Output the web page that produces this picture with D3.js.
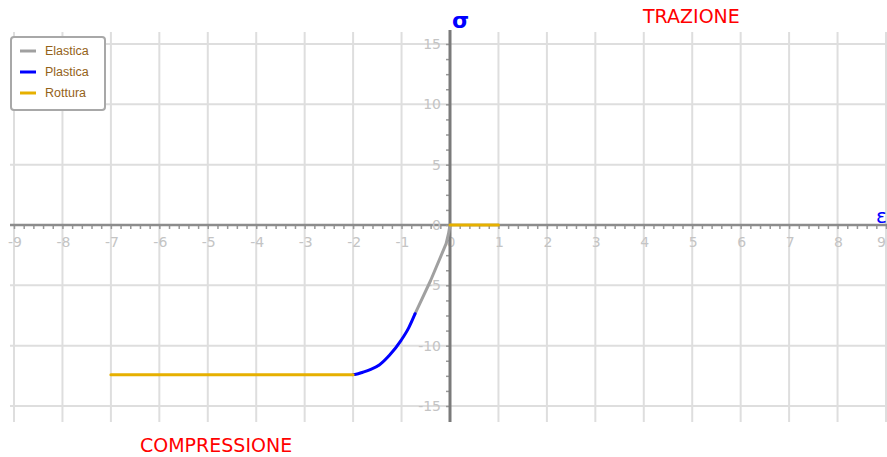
<!DOCTYPE html>
<html>
<head>
<meta charset="utf-8">
<style>
  body { margin: 0; background: #fff; }
  svg { display: block; }
</style>
</head>
<body>
  <div id="chart"></div>
  <script src="https://d3js.org/d3.v7.min.js"></script>
  <script>
    // strain (epsilon) / stress (sigma) curve
    var elasticaX = [0, -0.03, -0.08, -0.4, -0.72];
    var elasticaY = [0, -0.7, -1.55, -4.6, -7.35];
    var plasticaX = [-0.72, -0.85, -1.01, -1.25, -1.46, -1.66, -1.8, -1.94, -2];
    var plasticaY = [-7.35, -8.5, -9.56, -10.8, -11.6, -12.0, -12.2, -12.37, -12.4];
    var rotturaCompX = [-7, -2];
    var rotturaCompY = [-12.4, -12.4];
    var rotturaTrazX = [0, 1];
    var rotturaTrazY = [0, 0];
    var xTicks = [-9, -8, -7, -6, -5, -4, -3, -2, -1, 0, 1, 2, 3, 4, 5, 6, 7, 8, 9];
    var yTicks = [-15, -10, -5, 0, 5, 10, 15];
    var legendNames = ['Elastica', 'Plastica', 'Rottura'];
    var legendColors = ['#a0a0a0', '#0000ff', '#e6b000'];

    var width = 887, height = 457;
    var x = d3.scaleLinear().domain([-9, 9]).range([14, 886]);
    var y = d3.scaleLinear().domain([-15, 15]).range([406, 44]);

    var svg = d3.select('#chart').append('svg')
      .attr('width', width)
      .attr('height', height);

    // grid
    var grid = svg.append('g');
    grid.selectAll('line.v')
      .data(xTicks.filter(function(d){ return d !== 0; }))
      .enter().append('line')
      .attr('x1', function(d){ return x(d); })
      .attr('x2', function(d){ return x(d); })
      .attr('y1', 32).attr('y2', 422)
      .attr('stroke', '#dedede').attr('stroke-width', 2);
    grid.selectAll('line.h')
      .data(yTicks.filter(function(d){ return d !== 0; }))
      .enter().append('line')
      .attr('x1', 10).attr('x2', width)
      .attr('y1', function(d){ return y(d); })
      .attr('y2', function(d){ return y(d); })
      .attr('stroke', '#dedede').attr('stroke-width', 2);

    // x axis with minor ticks
    var xAxis = d3.axisBottom(x)
      .tickValues(d3.range(-45, 46).map(function(i){ return i / 5; }))
      .tickSize(4)
      .tickFormat('');
    var gx = svg.append('g')
      .attr('transform', 'translate(0,' + y(0) + ')')
      .call(xAxis);
    gx.select('.domain').remove();
    gx.selectAll('.tick line').attr('stroke', '#999').attr('stroke-width', 1.5);
    gx.append('line')
      .attr('x1', 10).attr('x2', width)
      .attr('stroke', '#8c8c8c').attr('stroke-width', 2.5);
    gx.selectAll('text.lbl')
      .data(xTicks)
      .enter().append('text')
      .attr('x', function(d){ return d === 9 ? width - 1 : x(d) + 1; })
      .attr('y', 22)
      .attr('text-anchor', function(d){ return d === 9 ? 'end' : 'middle'; })
      .attr('fill', '#c4c4c4')
      .style('font', '14px "DejaVu Sans", sans-serif')
      .text(function(d){ return d; });

    // y axis with minor ticks
    var yAxis = d3.axisLeft(y)
      .tickValues(d3.range(-12, 13).map(function(i){ return i * 1.25; }))
      .tickSize(4)
      .tickFormat('');
    var gy = svg.append('g')
      .attr('transform', 'translate(' + x(0) + ',0)')
      .call(yAxis);
    gy.select('.domain').remove();
    gy.selectAll('.tick line').attr('stroke', '#999').attr('stroke-width', 1.5);
    gy.append('line')
      .attr('y1', 30).attr('y2', 422)
      .attr('stroke', '#7a7a7a').attr('stroke-width', 3);
    gy.selectAll('text.lbl')
      .data(yTicks)
      .enter().append('text')
      .attr('x', -9)
      .attr('y', function(d){ return y(d) + 5; })
      .attr('text-anchor', 'end')
      .attr('fill', '#c4c4c4')
      .style('font', '14px "DejaVu Sans", sans-serif')
      .text(function(d){ return d; });

    // curves
    var smooth = d3.line()
      .x(function(d){ return x(d[0]); })
      .y(function(d){ return y(d[1]); })
      .curve(d3.curveMonotoneX);
    var straight = d3.line()
      .x(function(d){ return x(d[0]); })
      .y(function(d){ return y(d[1]); });
    function series(xs, ys, color, gen) {
      svg.append('path')
        .datum(d3.zip(xs, ys))
        .attr('d', gen)
        .attr('fill', 'none')
        .attr('stroke', color)
        .attr('stroke-width', 3)
        .attr('stroke-linecap', 'round')
        .attr('stroke-linejoin', 'round');
    }
    series(elasticaX, elasticaY, legendColors[0], straight);
    series(plasticaX, plasticaY, legendColors[1], smooth);
    series(rotturaCompX, rotturaCompY, legendColors[2], straight);
    series(rotturaTrazX, rotturaTrazY, legendColors[2], straight);

    // legend
    var legend = svg.append('g');
    legend.append('rect')
      .attr('x', 11).attr('y', 37)
      .attr('width', 94).attr('height', 73)
      .attr('rx', 3)
      .attr('fill', '#fff')
      .attr('stroke', '#a8a8a8')
      .attr('stroke-width', 2);
    var items = legend.selectAll('g.item')
      .data(legendNames)
      .enter().append('g')
      .attr('transform', function(d, i){ return 'translate(0,' + (51 + i * 21) + ')'; });
    items.append('line')
      .attr('x1', 20).attr('x2', 36)
      .attr('stroke', function(d, i){ return legendColors[i]; })
      .attr('stroke-width', 3);
    items.append('text')
      .attr('x', 45).attr('y', 4)
      .attr('fill', '#946219')
      .style('font', '12.5px "Liberation Sans", sans-serif')
      .text(function(d){ return d; });

    // annotations
    svg.append('text')
      .attr('x', 643).attr('y', 23)
      .attr('fill', '#ff0000')
      .style('font', '19px "DejaVu Sans", sans-serif')
      .text('TRAZIONE');
    svg.append('text')
      .attr('x', 140).attr('y', 452)
      .attr('fill', '#ff0000')
      .style('font', '19px "DejaVu Sans", sans-serif')
      .text('COMPRESSIONE');
    svg.append('text')
      .attr('x', 452).attr('y', 28)
      .attr('fill', '#0000ff')
      .style('font', 'bold 22px "DejaVu Sans", sans-serif')
      .text('σ');
    svg.append('text')
      .attr('x', 876).attr('y', 223)
      .attr('fill', '#0000ff')
      .style('font', '20px "DejaVu Sans", sans-serif')
      .text('ε');
  </script>
</body>
</html>
